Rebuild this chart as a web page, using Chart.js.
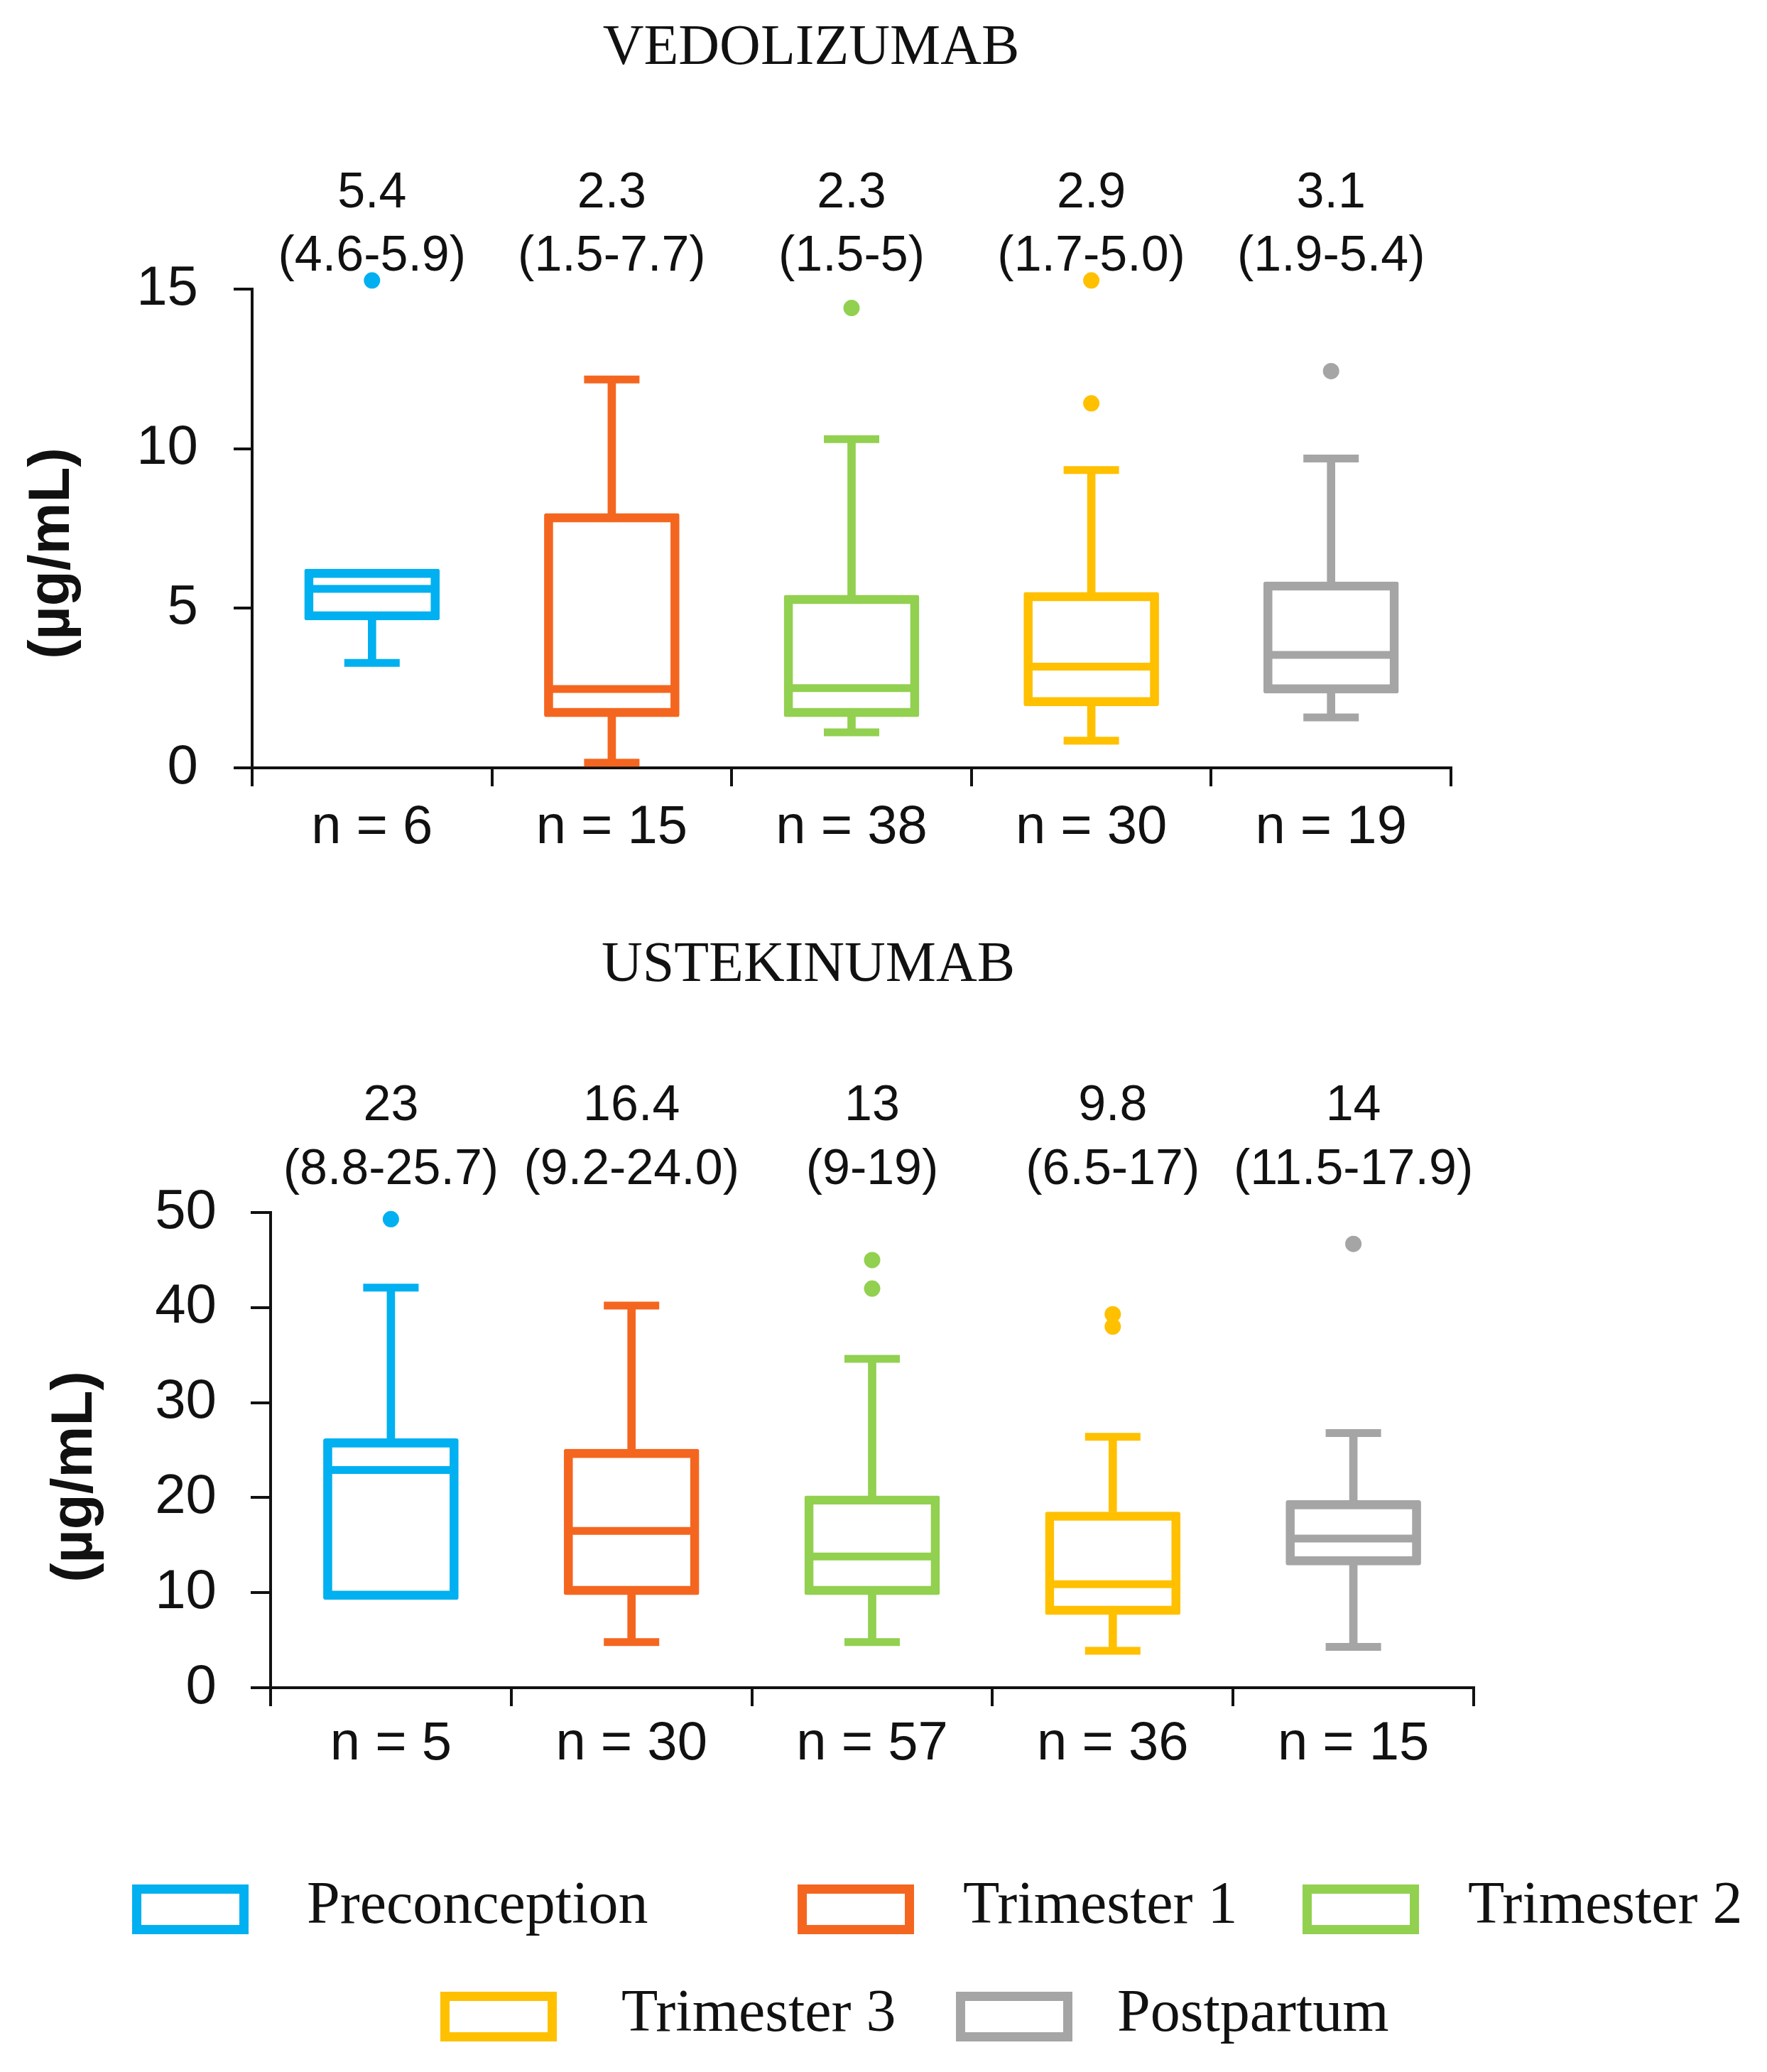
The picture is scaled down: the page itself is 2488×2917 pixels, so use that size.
<!DOCTYPE html>
<html>
<head>
<meta charset="utf-8">
<script src="https://cdn.jsdelivr.net/npm/chart.js@4.4.1/dist/chart.umd.min.js"></script>
<style>
  html, body { margin: 0; padding: 0; background: #fff; }
  #pagina { position: relative; width: 2488px; height: 2917px; overflow: hidden; background: #fff; }
  #pagina canvas { position: absolute; left: 0; }
  #vedoChart { top: 0; }
  #usteChart { top: 1250px; }
  .caja { position: absolute; box-sizing: border-box; width: 164px; height: 70px; border: 13px solid; }
  .texto-leyenda { position: absolute; font-family: "Liberation Serif", "Times New Roman", serif; font-size: 84px; line-height: 84px; color: #111; white-space: nowrap; }
</style>
</head>
<body>
<div id="pagina">
  <canvas id="vedoChart" width="2488" height="1250"></canvas>
  <canvas id="usteChart" width="2488" height="1300"></canvas>
  <div id="leyenda"></div>
</div>
<script>
// Grupos y colores
const grupos = ['Preconception', 'Trimester 1', 'Trimester 2', 'Trimester 3', 'Postpartum'];
const colores = ['#00B0F0', '#F4661F', '#92D050', '#FFC000', '#A5A5A5'];

/*========== VEDOLIZUMAB ==========*/
const vedoN = ['n = 6', 'n = 15', 'n = 38', 'n = 30', 'n = 19'];
const vedoMin = [3.29, 0.16, 1.11, 0.85, 1.58];
const vedoQ1 = [4.63, 1.60, 1.60, 1.94, 2.34];
const vedoMediana = [5.61, 2.47, 2.50, 3.17, 3.54];
const vedoQ3 = [6.23, 7.97, 5.41, 5.50, 5.83];
const vedoMax = [null, 12.17, 10.30, 9.33, 9.69]; // sin bigote superior en preconcepción
const vedoAtipicos = [[15.27], [], [14.41], [11.42, 15.27], [12.43]];
const vedoTextoMediana = ['5.4', '2.3', '2.3', '2.9', '3.1'];
const vedoTextoRango = ['(4.6-5.9)', '(1.5-7.7)', '(1.5-5)', '(1.7-5.0)', '(1.9-5.4)'];

/*========== USTEKINUMAB ==========*/
const usteN = ['n = 5', 'n = 30', 'n = 57', 'n = 36', 'n = 15'];
const usteMin = [null, 4.80, 4.80, 3.88, 4.29]; // sin bigote inferior en preconcepción
const usteQ1 = [9.28, 9.78, 9.78, 7.69, 12.9];
const usteMediana = [22.9, 16.5, 13.8, 10.9, 15.7];
const usteQ3 = [26.2, 25.1, 20.2, 18.5, 19.7];
const usteMax = [42.1, 40.2, 34.6, 26.4, 26.8];
const usteAtipicos = [[49.3], [], [45.0, 42.0], [39.3, 38.0], [46.7]];
const usteTextoMediana = ['23', '16.4', '13', '9.8', '14'];
const usteTextoRango = ['(8.8-25.7)', '(9.2-24.0)', '(9-19)', '(6.5-17)', '(11.5-17.9)'];

const negro = '#111111';
const grosor = 11;

// Textos: título, mediana (rango) arriba de cada caja y título del eje Y
const textosPlugin = {
    id: 'textos',
    afterDraw(chart, args, o) {
        const ctx = chart.ctx;
        const x = chart.scales.x;
        ctx.save();
        ctx.fillStyle = negro;
        ctx.textAlign = 'center';
        ctx.textBaseline = 'middle';
        ctx.font = '80px "Liberation Serif"';
        ctx.fillText(o.titulo, o.tituloX, o.tituloY);
        ctx.font = '70px "Liberation Sans"';
        o.medianas.forEach((t, i) => {
            const px = x.getPixelForValue(i);
            ctx.fillText(t, px, o.fila1);
            ctx.fillText(o.rangos[i], px, o.fila2);
        });
        ctx.font = 'bold 82px "Liberation Sans"';
        ctx.translate(o.ejeX, o.ejeY);
        ctx.rotate(-Math.PI / 2);
        ctx.fillText('(µg/mL)', 0, 0);
        ctx.restore();
    }
};

function lineaPuntos(data, radio) {
    return {
        type: 'line',
        data: data,
        showLine: false,
        pointStyle: 'line',
        pointRadius: radio,
        pointHoverRadius: radio,
        pointBorderWidth: grosor,
        pointBorderColor: colores,
        pointBackgroundColor: colores,
        clip: false
    };
}

function crearBoxplot(id, d) {
    const atipicos = [];
    const colAtipicos = [];
    d.atipicos.forEach((lista, i) => {
        lista.forEach(v => {
            atipicos.push({ x: d.etiquetas[i], y: v });
            colAtipicos.push(colores[i]);
        });
    });

    return new Chart(document.getElementById(id), {
        type: 'bar',
        data: {
            labels: d.etiquetas,
            datasets: [
                { // bigote superior
                    data: d.q3.map((v, i) => d.max[i] == null ? null : [v, d.max[i]]),
                    backgroundColor: colores,
                    barThickness: grosor,
                    grouped: false
                },
                { // bigote inferior
                    data: d.q1.map((v, i) => d.min[i] == null ? null : [d.min[i], v]),
                    backgroundColor: colores,
                    barThickness: grosor,
                    grouped: false
                },
                { // caja Q1-Q3
                    data: d.q1.map((v, i) => [v, d.q3[i]]),
                    backgroundColor: 'rgba(255,255,255,0)',
                    borderColor: colores,
                    borderWidth: 12,
                    borderSkipped: false,
                    borderRadius: 3,
                    barThickness: 190,
                    grouped: false
                },
                lineaPuntos(d.max, 39),
                lineaPuntos(d.min, 39),
                lineaPuntos(d.mediana, 89),
                { // valores atípicos
                    type: 'line',
                    data: atipicos,
                    showLine: false,
                    pointStyle: 'circle',
                    pointRadius: 9,
                    pointBorderWidth: 5,
                    pointBackgroundColor: colAtipicos,
                    pointBorderColor: colAtipicos,
                    clip: false
                }
            ]
        },
        options: {
            responsive: false,
            devicePixelRatio: 1,
            animation: false,
            events: [],
            layout: { padding: { left: 0, right: d.derecha, top: d.arriba, bottom: 0 } },
            plugins: {
                legend: { display: false },
                tooltip: { enabled: false },
                textos: d.textos
            },
            scales: {
                x: {
                    grid: { drawOnChartArea: false, drawTicks: true, tickLength: 26, color: negro, lineWidth: 4, offset: true },
                    border: { display: true, color: negro, width: 4 },
                    ticks: { color: negro, font: { family: 'Liberation Sans', size: 76 }, padding: d.sepX, maxRotation: 0, autoSkip: false },
                    afterFit: s => { s.height = d.altoEjeX; }
                },
                y: {
                    min: 0,
                    max: d.yMax,
                    grid: { drawOnChartArea: false, drawTicks: true, tickLength: d.marcaY, color: negro, lineWidth: 4 },
                    border: { display: true, color: negro, width: 4 },
                    ticks: { stepSize: d.paso, color: negro, font: { family: 'Liberation Sans', size: 78 }, padding: d.sepY },
                    afterFit: s => { s.width = d.izquierda; }
                }
            }
        },
        plugins: [textosPlugin]
    });
}

crearBoxplot('vedoChart', {
    etiquetas: vedoN, min: vedoMin, q1: vedoQ1, mediana: vedoMediana, q3: vedoQ3, max: vedoMax, atipicos: vedoAtipicos,
    yMax: 15, paso: 5,
    izquierda: 355, derecha: 2488 - 2043, arriba: 407, altoEjeX: 1250 - 1081,
    sepX: 13, marcaY: 26, sepY: 50,
    textos: {
        titulo: 'VEDOLIZUMAB', tituloX: 1142, tituloY: 69,
        medianas: vedoTextoMediana, rangos: vedoTextoRango, fila1: 273, fila2: 362,
        ejeX: 74, ejeY: 779
    }
});

crearBoxplot('usteChart', {
    etiquetas: usteN, min: usteMin, q1: usteQ1, mediana: usteMediana, q3: usteQ3, max: usteMax, atipicos: usteAtipicos,
    yMax: 50, paso: 10,
    izquierda: 381, derecha: 2488 - 2075, arriba: 457, altoEjeX: 1300 - 1126,
    sepX: 8, marcaY: 28, sepY: 48,
    textos: {
        titulo: 'USTEKINUMAB', tituloX: 1138, tituloY: 110,
        medianas: usteTextoMediana, rangos: usteTextoRango, fila1: 308, fila2: 398,
        ejeX: 106, ejeY: 829
    }
});

/*========== Leyenda ==========*/
const posLeyenda = [
    { caja: [186, 2653], texto: [432, 2637] },
    { caja: [1123, 2653], texto: [1356, 2637] },
    { caja: [1834, 2653], texto: [2067, 2637] },
    { caja: [620, 2804], texto: [875, 2789] },
    { caja: [1346, 2804], texto: [1573, 2789] }
];
const leyenda = document.getElementById('leyenda');
grupos.forEach((nombre, i) => {
    const caja = document.createElement('div');
    caja.className = 'caja';
    caja.style.left = posLeyenda[i].caja[0] + 'px';
    caja.style.top = posLeyenda[i].caja[1] + 'px';
    caja.style.borderColor = colores[i];
    leyenda.appendChild(caja);

    const texto = document.createElement('div');
    texto.className = 'texto-leyenda';
    texto.style.left = posLeyenda[i].texto[0] + 'px';
    texto.style.top = posLeyenda[i].texto[1] + 'px';
    texto.textContent = nombre;
    leyenda.appendChild(texto);
});
</script>
</body>
</html>
